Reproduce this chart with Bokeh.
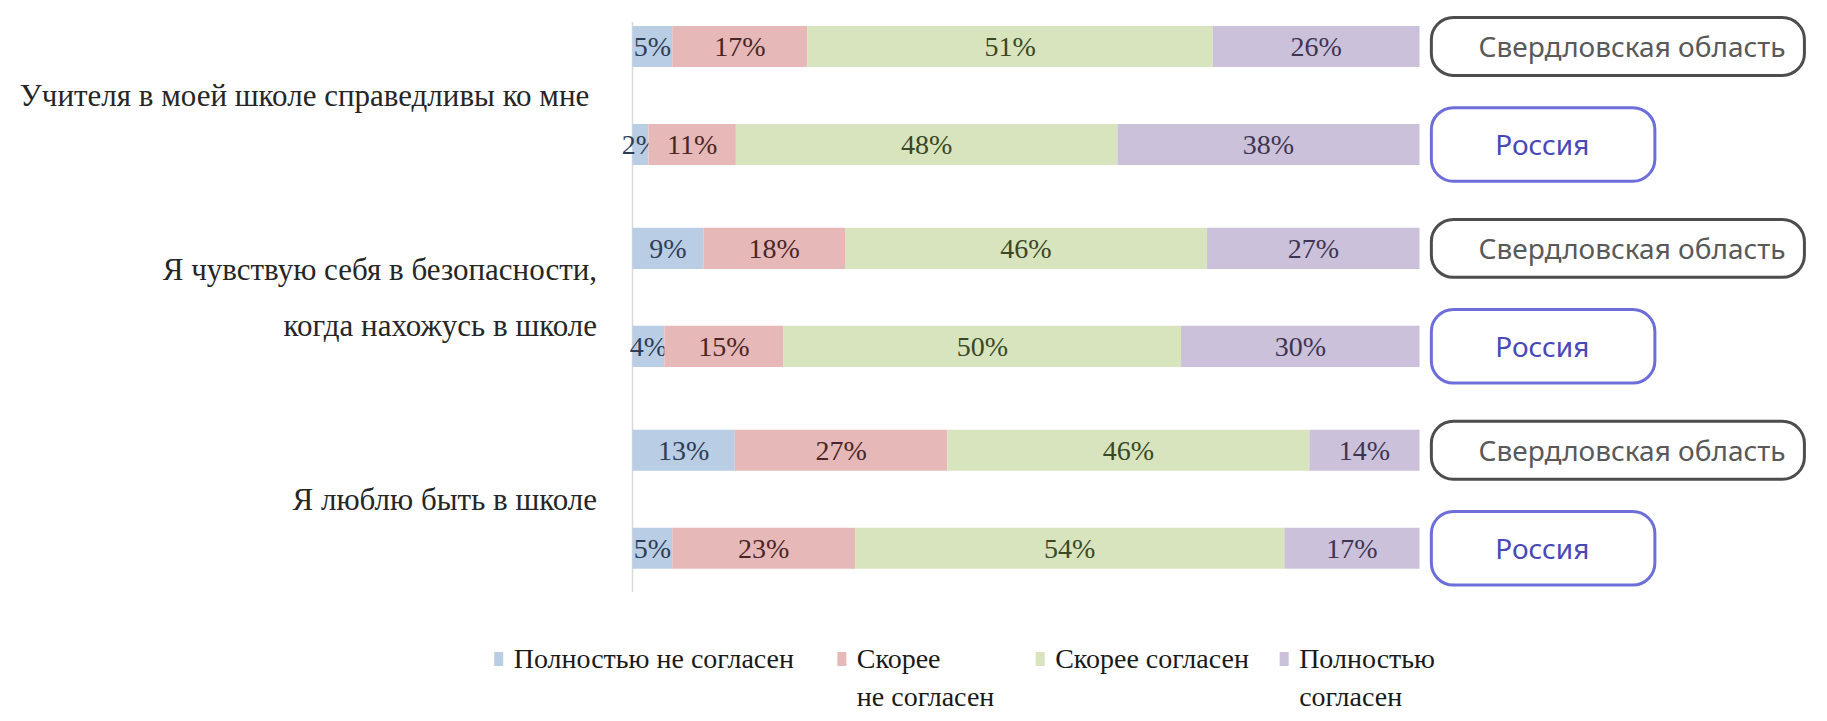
from bokeh.plotting import figure
from bokeh.models import Range1d, BoxAnnotation, ColumnDataSource
from bokeh.core.properties import value
from bokeh.embed import file_html
from bokeh.resources import INLINE

# ---------------- data ----------------
questions = [
    "Учителя в моей школе  справедливы ко мне",
    "Я чувствую себя в безопасности,\nкогда нахожусь в школе",
    "Я люблю быть в школе",
]
regions = ["Свердловская область", "Россия"]
categories = ["Полностью не согласен", "Скорее\nне согласен", "Скорее согласен", "Полностью\nсогласен"]
# rows: (Q1 Sverd, Q1 Russia, Q2 Sverd, Q2 Russia, Q3 Sverd, Q3 Russia)
fully_disagree = [5, 2, 9, 4, 13, 5]
rather_disagree = [17, 11, 18, 15, 27, 23]
rather_agree = [51, 48, 46, 50, 46, 54]
fully_agree = [26, 38, 27, 30, 14, 17]

series = [fully_disagree, rather_disagree, rather_agree, fully_agree]

# ---------------- styles / layout ----------------
fill_colors = ["#B9CDE5", "#E6B9B8", "#D7E4BD", "#CCC1DA"]
text_colors = ["#2E3D55", "#4A2626", "#3A4826", "#3E3552"]
box_line_colors = ["#4D4D4D", "#6E6EDB"]
box_text_colors = ["#595959", "#4848B8"]
SERIF = "Liberation Serif"
SANS = "Noto Sans"

GROUP_STEP = 2.06
BAR_H = 0.42

n_rows = len(fully_disagree)
row_y = [-(i // 2 * GROUP_STEP + i % 2) for i in range(n_rows)]
totals = [sum(s[i] for s in series) for i in range(n_rows)]

p = figure(width=1811, height=713, output_backend="svg", toolbar_location=None,
           x_range=Range1d(-80.3, 149.8), y_range=Range1d(-6.806, 0.469),
           x_axis_location=None, y_axis_location=None, min_border=0)
p.outline_line_color = None
p.xgrid.visible = False
p.ygrid.visible = False
p.background_fill_color = "white"

# axis line
p.segment(x0=[0], y0=[row_y[0] + 0.25], x1=[0], y1=[row_y[-1] - 0.45],
          line_color="#D9D9D9", line_width=1.5)

cum = [0.0] * n_rows
for k, s in enumerate(series):
    left = [cum[i] for i in range(n_rows)]
    right = [cum[i] + s[i] * 100.0 / totals[i] for i in range(n_rows)]
    cum = right
    src = ColumnDataSource(dict(
        y=row_y, left=left, right=right,
        mid=[(a + b) / 2 for a, b in zip(left, right)],
        lab=[f"{v}%" for v in s],
    ))
    p.hbar(y="y", left="left", right="right", height=BAR_H, source=src,
           fill_color=fill_colors[k], line_color=None)
    p.text(x="mid", y="y", text="lab", source=src, text_align="center",
           text_baseline="middle", text_font=value(SERIF), text_font_size="28px",
           text_color=text_colors[k])

# region boxes
box_right = [148.9, 129.9]
box_half_h = [0.295, 0.375]
text_x = [127.0, 115.6]
for i in range(n_rows):
    m = i % 2
    p.add_layout(BoxAnnotation(left=101.5, right=box_right[m],
                               top=row_y[i] + box_half_h[m], bottom=row_y[i] - box_half_h[m],
                               border_radius=22, line_color=box_line_colors[m], line_width=3,
                               line_alpha=1.0, fill_color="white", fill_alpha=1.0,
                               level="underlay"))
for m in range(2):
    ys = [row_y[i] for i in range(n_rows) if i % 2 == m]
    p.text(x=[text_x[m]] * len(ys), y=ys, text=[regions[m]] * len(ys),
           text_align="center", text_baseline="middle", text_font=value(SANS),
           text_font_size="28px", text_color=box_text_colors[m])

# question labels
q_y = [(row_y[2 * g] + row_y[2 * g + 1]) / 2 for g in range(len(questions))]
p.text(x=[-4.5] * len(questions), y=q_y, text=questions, text_align="right",
       text_baseline="middle", text_font=value(SERIF), text_font_size="31px",
       text_color="#262626", text_line_height=1.6)

# legend (drawn manually: swatch aligned with first line of each label)
leg_x = [-17.0, 26.6, 51.8, 82.8]
leg_y = -6.25
p.rect(x=leg_x, y=[leg_y] * 4, width=9, height=14, width_units="screen",
       height_units="screen", fill_color=fill_colors, line_color=None)
p.text(x=[v + 1.9 for v in leg_x], y=[leg_y + 0.165] * 4, text=categories, text_align="left",
       text_baseline="top", text_font=value(SERIF), text_font_size="28px",
       text_color="#1A1A1A", text_line_height=1.22)

open("out.html", "w").write(file_html(p, INLINE))
